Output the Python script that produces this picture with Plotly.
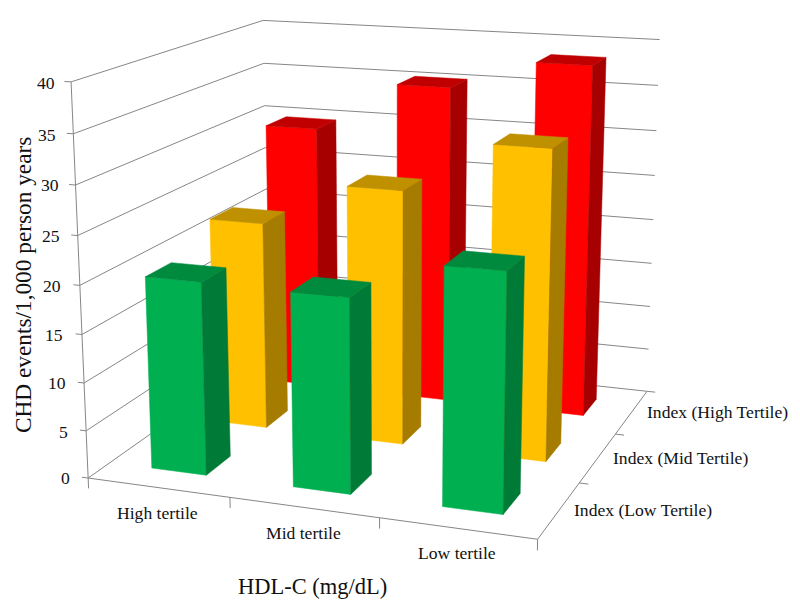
import numpy as np
import plotly.graph_objects as go

# ---- chart data -----
hdl_tertiles = ["High tertile", "Mid tertile", "Low tertile"]
index_tertiles = ["Index (Low Tertile)", "Index (Mid Tertile)", "Index (High Tertile)"]
low_index_values = [20.1, 20.0, 24.0]
mid_index_values = [22.5, 27.2, 32.6]
high_index_values = [29.8, 35.3, 38.5]
z_ticks = [0, 5, 10, 15, 20, 25, 30, 35, 40]
y_title = "CHD events/1,000 person years"
x_title = "HDL-C (mg/dL)"

# ---- styles -----
face_colors = [("#00B050", "#007A37", "#008A3E"),
               ("#FFC000", "#A67C00", "#BF9000"),
               ("#FF0000", "#A60000", "#C00000")]
GRID = "#868686"
FONT = "Liberation Serif"

# Plotly's gl3d camera has a fixed 45 degree lens, far stronger than this chart's
# perspective, so the box is projected with an explicit pinhole camera matrix
# (fractions of the x, y, z ranges -> pixel scale of the hidden 2D axes).
CAMERA = np.array([[407.430, 237.338, -20.844, 88.150],
                   [19.048, -53.888, -400.538, 478.058],
                   [-0.07819, 0.21090, -0.05318, 1.0]])
BAR_W, BAR_D = 0.3912, 0.3826
N_X, N_Y, Z_MAX = 3, 3, 40
PAGE_MARGIN = 8  # the page body's default margin; the hidden axes start after it


def project(x, y, z):
    h = CAMERA @ np.array([x / N_X, y / N_Y, z / Z_MAX, 1.0])
    return h[0] / h[2], h[1] / h[2]


fig = go.Figure()


def polyline(points, color=GRID, width=1.0, fill=False):
    xy = [project(*q) for q in points]
    fig.add_trace(go.Scatter(
        x=[a for a, _ in xy], y=[b for _, b in xy], mode="lines",
        line=dict(color=color, width=width), hoverinfo="skip", showlegend=False,
        fill="toself" if fill else None, fillcolor=color if fill else None))


# walls: value gridlines, with the outward tick on the front-left edge
for z in z_ticks:
    polyline([(-0.045, 0, z), (0, 0, z), (0, N_Y, z), (N_X, N_Y, z)])
# axis lines
polyline([(0, 0, 0), (0, 0, Z_MAX)])
polyline([(0, 0, 0), (N_X, 0, 0), (N_X, N_Y, 0)])
# category ticks
for t in range(N_X + 1):
    polyline([(t, 0, 0), (t, 0, -1.1)])
for t in range(1, N_Y + 1):
    polyline([(N_X, t, 0), (N_X + 0.06, t, 0)])

# bars, back row first
rows = [low_index_values, mid_index_values, high_index_values]
for j in reversed(range(N_Y)):
    front, side, top = face_colors[j]
    for i, h in enumerate(rows[j]):
        x0, x1 = i + .5 - BAR_W / 2, i + .5 + BAR_W / 2
        y0, y1 = j + .5 - BAR_D / 2, j + .5 + BAR_D / 2
        polyline([(x0, y0, 0), (x1, y0, 0), (x1, y0, h), (x0, y0, h), (x0, y0, 0)], front, 0.5, True)
        polyline([(x1, y0, 0), (x1, y1, 0), (x1, y1, h), (x1, y0, h), (x1, y0, 0)], side, 0.5, True)
        polyline([(x0, y0, h), (x1, y0, h), (x1, y1, h), (x0, y1, h), (x0, y0, h)], top, 0.5, True)

W, H = 800 - 2 * PAGE_MARGIN, 608 - 2 * PAGE_MARGIN
fig.update_layout(
    paper_bgcolor="white", plot_bgcolor="white", width=W, height=H,
    margin=dict(l=0, r=0, t=0, b=0), showlegend=False,
    xaxis=dict(range=[PAGE_MARGIN, PAGE_MARGIN + W], visible=False, fixedrange=True),
    yaxis=dict(range=[PAGE_MARGIN + H, PAGE_MARGIN], visible=False, fixedrange=True))


def label(text, x, y, size=17.6, anchor="center", angle=0):
    fig.add_annotation(x=x, y=y, xref="x", yref="y", text=text, showarrow=False,
                       xanchor=anchor, yanchor="middle", textangle=angle,
                       font=dict(family=FONT, size=size, color="#111111"))


z_label_pos = [(71.7, 478), (70, 431.7), (67.7, 382.7), (65.3, 335), (63.3, 286),
               (62.3, 236), (61, 185), (58.3, 135), (56.7, 83)]
for v, (px, py) in zip(z_ticks, z_label_pos):
    label(str(v), px, py, anchor="right")
for name, (px, py) in zip(hdl_tertiles, [(157, 513), (303, 532.7), (457, 553)]):
    label(name, px, py)
for name, (px, py) in zip(index_tertiles, [(643, 510), (680.6, 457.7), (717, 412)]):
    label(name, px, py)
label(x_title, 312, 586.7, size=22.5)
label(y_title, 23, 285, size=23.3, angle=-90)

fig.write_html("out.html", config=dict(displayModeBar=False))
